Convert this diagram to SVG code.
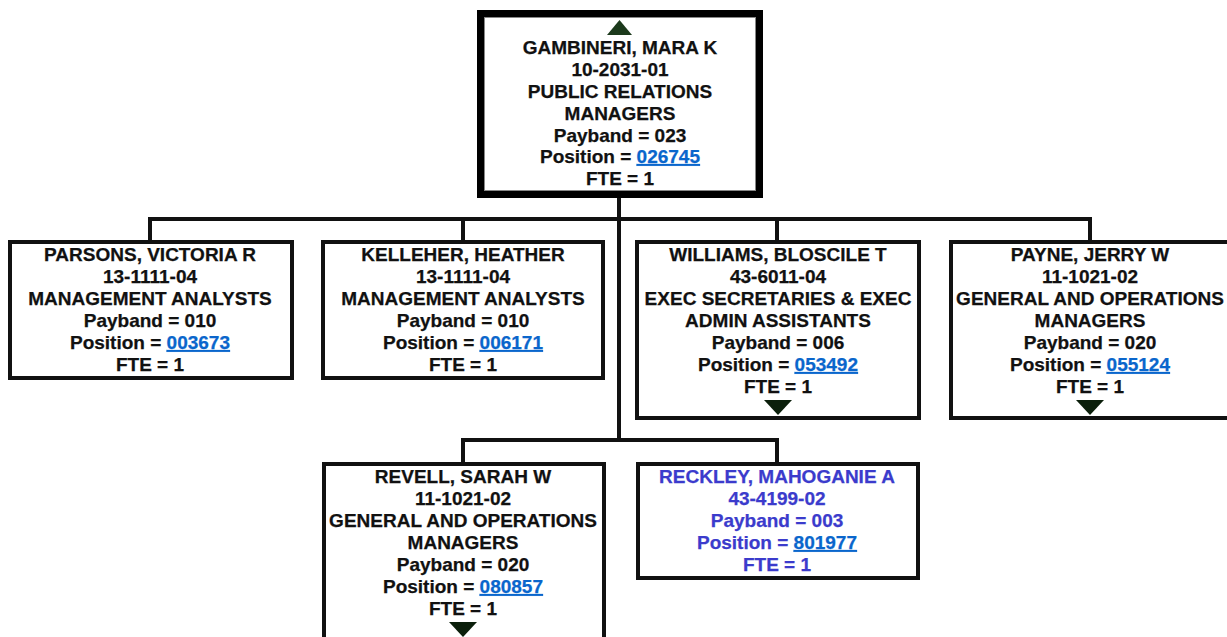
<svg xmlns="http://www.w3.org/2000/svg" width="1227" height="637" viewBox="0 0 1227 637">
<style>
.box{fill:#fff;stroke:#111;stroke-width:4}
.top{fill:#fff;stroke:#000;stroke-width:7}
.inner{fill:none;stroke:#888;stroke-width:1}
text{font-family:"Liberation Sans",Arial,sans-serif;font-weight:bold;font-size:19px;fill:#111;stroke:#111;stroke-width:0.25;text-anchor:middle}
.lnk{fill:#0a66cc;stroke:#0a66cc;text-decoration:underline}
.vac text{fill:#3b3bcc;stroke:#3b3bcc}
.vac text .lnk{fill:#0a66cc;stroke:#0a66cc}
.con{stroke:#111;stroke-width:4;fill:none}
.tri{fill:#0b1f0b}
</style>
<g id="connectors">
<path class="con" d="M619 197 V440"/>
<path class="con" d="M148 219 H1092"/>
<path class="con" d="M150 219 V241 M463 219 V241 M777 219 V241 M1090 219 V241"/>
<path class="con" d="M461 440 H779"/>
<path class="con" d="M463 440 V463 M777 440 V463"/>
</g>
<g id="gambineri">
<rect class="top" x="480.5" y="13.5" width="279" height="181"/>
<rect class="inner" x="484.5" y="17.5" width="271" height="173"/>
<polygon points="607,35 632,35 619.5,20" fill="#1c3a1c"/>
<text x="620" y="54">GAMBINERI, MARA K</text>
<text x="620" y="76">10-2031-01</text>
<text x="620" y="98">PUBLIC RELATIONS</text>
<text x="620" y="120">MANAGERS</text>
<text x="620" y="142">Payband = 023</text>
<text x="620" y="163">Position = <tspan class="lnk">026745</tspan></text>
<text x="620" y="185">FTE = 1</text>
</g>
<g id="parsons">
<rect class="box" x="10" y="242" width="282" height="136"/>
<text x="150" y="261">PARSONS, VICTORIA R</text>
<text x="150" y="283">13-1111-04</text>
<text x="150" y="305">MANAGEMENT ANALYSTS</text>
<text x="150" y="327">Payband = 010</text>
<text x="150" y="349">Position = <tspan class="lnk">003673</tspan></text>
<text x="150" y="371">FTE = 1</text>
</g>
<g id="kelleher">
<rect class="box" x="323" y="242" width="280" height="136"/>
<text x="463" y="261">KELLEHER, HEATHER</text>
<text x="463" y="283">13-1111-04</text>
<text x="463" y="305">MANAGEMENT ANALYSTS</text>
<text x="463" y="327">Payband = 010</text>
<text x="463" y="349">Position = <tspan class="lnk">006171</tspan></text>
<text x="463" y="371">FTE = 1</text>
</g>
<g id="williams">
<rect class="box" x="637" y="242" width="282" height="176"/>
<text x="778" y="261">WILLIAMS, BLOSCILE T</text>
<text x="778" y="283">43-6011-04</text>
<text x="778" y="305">EXEC SECRETARIES &amp; EXEC</text>
<text x="778" y="327">ADMIN ASSISTANTS</text>
<text x="778" y="349">Payband = 006</text>
<text x="778" y="371">Position = <tspan class="lnk">053492</tspan></text>
<text x="778" y="393">FTE = 1</text>
<polygon class="tri" points="764,400 792,400 778,415"/>
</g>
<g id="payne">
<rect class="box" x="951" y="242" width="282" height="176"/>
<text x="1090" y="261">PAYNE, JERRY W</text>
<text x="1090" y="283">11-1021-02</text>
<text x="1090" y="305">GENERAL AND OPERATIONS</text>
<text x="1090" y="327">MANAGERS</text>
<text x="1090" y="349">Payband = 020</text>
<text x="1090" y="371">Position = <tspan class="lnk">055124</tspan></text>
<text x="1090" y="393">FTE = 1</text>
<polygon class="tri" points="1076,400 1104,400 1090,415"/>
</g>
<g id="revell">
<rect class="box" x="324" y="464" width="280" height="180"/>
<text x="463" y="483">REVELL, SARAH W</text>
<text x="463" y="505">11-1021-02</text>
<text x="463" y="527">GENERAL AND OPERATIONS</text>
<text x="463" y="549">MANAGERS</text>
<text x="463" y="571">Payband = 020</text>
<text x="463" y="593">Position = <tspan class="lnk">080857</tspan></text>
<text x="463" y="615">FTE = 1</text>
<polygon class="tri" points="449,622 477,622 463,637"/>
</g>
<g id="reckley" class="vac">
<rect class="box" x="638" y="464" width="280" height="114"/>
<text x="777" y="483">RECKLEY, MAHOGANIE A</text>
<text x="777" y="505">43-4199-02</text>
<text x="777" y="527">Payband = 003</text>
<text x="777" y="549">Position = <tspan class="lnk">801977</tspan></text>
<text x="777" y="571">FTE = 1</text>
</g>
</svg>
